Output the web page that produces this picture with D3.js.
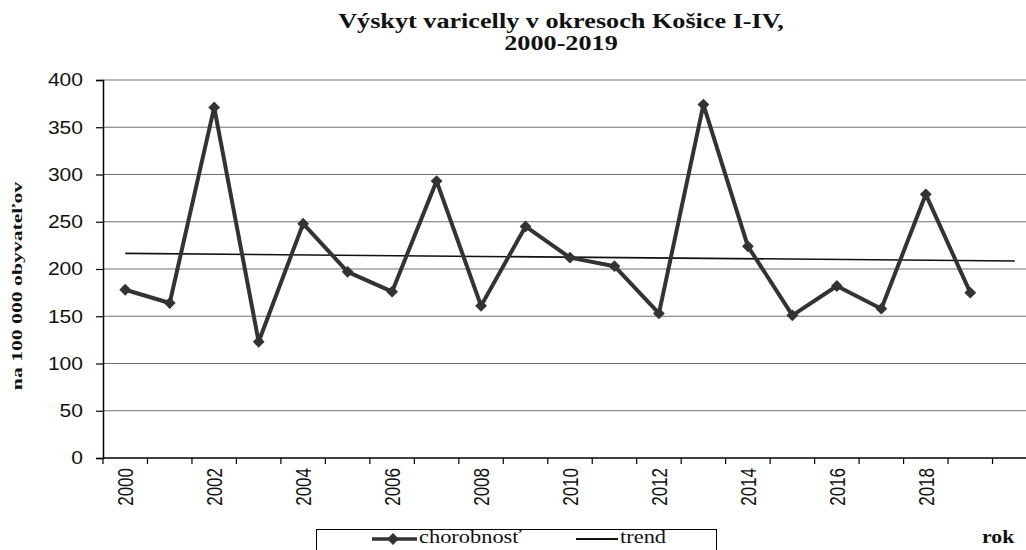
<!DOCTYPE html>
<html><head><meta charset="utf-8">
<script src="https://cdn.jsdelivr.net/npm/d3@7"></script>
<style>body{margin:0;background:#fff;} svg{display:block;}</style>
</head><body>
<script>
const categories = [2000,2001,2002,2003,2004,2005,2006,2007,2008,2009,2010,2011,2012,2013,2014,2015,2016,2017,2018,2019,2020];
const dataYears = [2000,2001,2002,2003,2004,2005,2006,2007,2008,2009,2010,2011,2012,2013,2014,2015,2016,2017,2018,2019];
const chorobnost = [178,164,371,123,248,197,176,293,161,245,212,203,153,374,224,151,182,158,279,175];
const trendYears = [2000,2020];
const trendValues = [216.5,208.5];
const yTicks = [0,50,100,150,200,250,300,350,400];
const xLabels = ["2000","","2002","","2004","","2006","","2008","","2010","","2012","","2014","","2016","","2018","",""];

(function(){
const W=1026,H=550;
const svg=d3.select("body").append("svg").attr("width",W).attr("height",H);
const pL=103,pR=1037,pT=80,pB=458;
const x=d3.scaleBand().domain(categories).range([pL,pR]).padding(0);
const bw=x.bandwidth();
const cx=d=>x(d)+bw/2;
const y=d3.scaleLinear().domain([0,400]).range([pB,pT]);
const sans="Liberation Sans, Arial, sans-serif", serif="Liberation Serif, Times New Roman, serif";

// gridlines
svg.append("g").selectAll("line").data(yTicks.filter(t=>t>0)).join("line")
 .attr("x1",pL).attr("x2",pR).attr("y1",d=>y(d)).attr("y2",d=>y(d))
 .attr("stroke","#707070").attr("stroke-width",1.2);

// y axis
const ya=svg.append("g").attr("transform",`translate(${pL},0)`)
 .call(d3.axisLeft(y).tickValues(yTicks).tickSize(7).tickFormat(""));
ya.select(".domain").attr("stroke","#000").attr("stroke-width",1.5);
ya.selectAll(".tick line").attr("stroke","#000").attr("stroke-width",1.2);
svg.append("g").selectAll("text").data(yTicks).join("text")
 .attr("transform",d=>`translate(${pL-20},${y(d)+6.3}) scale(1.17,1)`)
 .attr("text-anchor","end").attr("font-family",sans).attr("font-size",18).attr("fill","#111")
 .text(d=>d);

// x axis
svg.append("line").attr("x1",pL).attr("x2",pR).attr("y1",pB).attr("y2",pB).attr("stroke","#000").attr("stroke-width",1.5);
svg.append("g").selectAll("line").data(categories).join("line")
 .attr("x1",d=>x(d)).attr("x2",d=>x(d)).attr("y1",pB).attr("y2",pB+6)
 .attr("stroke","#000").attr("stroke-width",1.2);
svg.append("g").selectAll("text").data(categories).join("text")
 .attr("transform",d=>`translate(${cx(d)+8},${pB+10}) scale(1.25,1) rotate(-90)`)
 .attr("text-anchor","end")
 .attr("font-family",sans).attr("font-size",17).attr("fill","#111")
 .text((d,i)=>xLabels[i]);

// trend
const line=d3.line().x(d=>cx(d[0])).y(d=>y(d[1]));
svg.append("path").datum(trendYears.map((t,i)=>[t,trendValues[i]]))
 .attr("d",line).attr("fill","none").attr("stroke","#111").attr("stroke-width",1.6);

// main series
const pts=dataYears.map((t,i)=>[t,chorobnost[i]]);
svg.append("path").datum(pts).attr("d",line).attr("fill","none")
 .attr("stroke","#333").attr("stroke-width",4).attr("stroke-linejoin","round");
const diamond=d3.symbol().type(d3.symbolSquare).size(70);
svg.append("g").selectAll("path").data(pts).join("path")
 .attr("transform",d=>`translate(${cx(d[0])},${y(d[1])}) rotate(45)`)
 .attr("d",diamond).attr("fill","#333");

// title
const titleAttrs=sel=>sel.attr("text-anchor","middle").attr("font-family",serif).attr("font-weight","bold").attr("font-size",20).attr("fill","#111");
svg.append("text").attr("transform","translate(561,28) scale(1.31,1)").call(titleAttrs).text("Výskyt varicelly v okresoch Košice I-IV,");
svg.append("text").attr("transform","translate(561,50) scale(1.31,1)").call(titleAttrs).text("2000-2019");

// y title
svg.append("text").attr("transform","translate(22,286) rotate(-90) scale(1.55,1)").attr("text-anchor","middle")
 .attr("font-family",serif).attr("font-weight","bold").attr("font-size",14).attr("fill","#111")
 .text("na 100 000 obyvateľov");

// legend
svg.append("rect").attr("x",316.5).attr("y",529.5).attr("width",400).attr("height",40)
 .attr("fill","#fff").attr("stroke","#000").attr("stroke-width",1);
svg.append("line").attr("x1",372).attr("x2",417).attr("y1",539).attr("y2",539).attr("stroke","#333").attr("stroke-width",3.5);
svg.append("path").attr("transform","translate(393,539) rotate(45)").attr("d",diamond).attr("fill","#333");
svg.append("text").attr("transform","translate(419,543) scale(1.18,1)").attr("font-family",serif).attr("font-size",19).attr("fill","#111").text("chorobnosť");
svg.append("line").attr("x1",576).attr("x2",618).attr("y1",539).attr("y2",539).attr("stroke","#111").attr("stroke-width",2);
svg.append("text").attr("transform","translate(620,543) scale(1.18,1)").attr("font-family",serif).attr("font-size",19).attr("fill","#111").text("trend");
svg.append("text").attr("transform","translate(982,543) scale(1.15,1)").attr("font-family",serif).attr("font-weight","bold").attr("font-size",19).attr("fill","#111").text("rok");
})();
</script>
</body></html>
